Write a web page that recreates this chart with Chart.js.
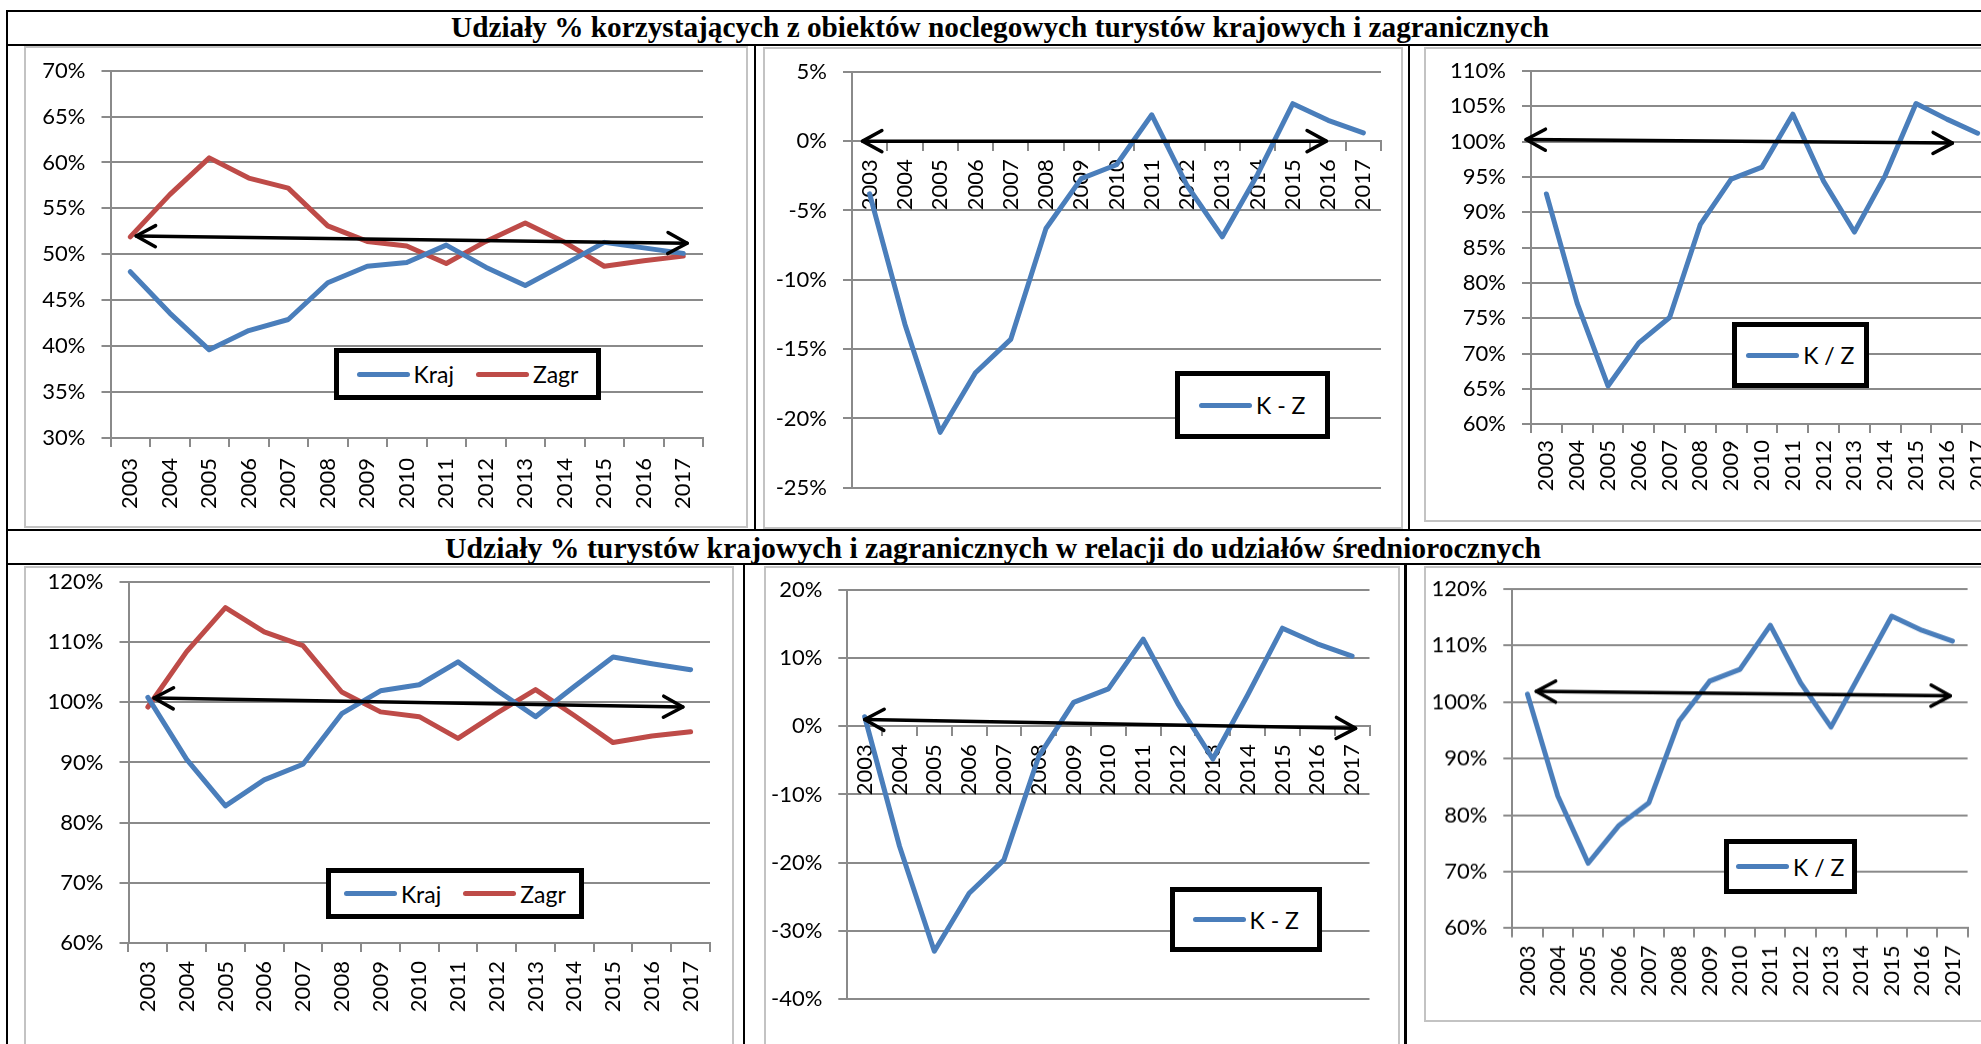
<!DOCTYPE html>
<html>
<head>
<meta charset="utf-8">
<script src="https://cdn.jsdelivr.net/npm/chart.js@4.4.1/dist/chart.umd.min.js"></script>
<style>
  html, body { margin: 0; padding: 0; background: #fff; }
  body { width: 1981px; height: 1044px; overflow: hidden; position: relative; font-family: Lato, sans-serif; }
  .ln { position: absolute; background: #000; }
  .title { position: absolute; font-family: "Liberation Serif", "Times New Roman", serif; font-weight: bold;
           font-size: 29px; line-height: 29px; white-space: nowrap; transform-origin: 0 0; }
  .frame { position: absolute; border: 2px solid #c3c3c3; box-sizing: border-box; }
  .wrap { position: absolute; }
  .legend { position: absolute; border: 5px solid #000; box-sizing: border-box; background: #fff;
            display: flex; align-items: center; justify-content: center; gap: 22px; font-size: 23px; color: #000; }
  .legend .item { display: flex; align-items: center; }
  .legend .sample { width: 53px; height: 5px; border-radius: 3px; margin-right: 4px; }
</style>
</head>
<body>
<script>
const years = ['2003', '2004', '2005', '2006', '2007', '2008', '2009', '2010',
               '2011', '2012', '2013', '2014', '2015', '2016', '2017'];

// udziały % korzystających z obiektów noclegowych
const krajTop = [48.1, 43.6, 39.6, 41.7, 42.9, 46.9, 48.7, 49.1, 51.0, 48.6, 46.6, 48.9, 51.3, 50.7, 50.1];
const zagrTop = [51.9, 56.5, 60.5, 58.3, 57.2, 53.1, 51.4, 50.9, 49.0, 51.4, 53.4, 51.3, 48.7, 49.3, 49.8];
const kzTop = [-3.8, -13.2, -21.0, -16.7, -14.3, -6.3, -2.7, -1.7, 1.9, -3.2, -6.9, -2.4, 2.7, 1.5, 0.6];
const kpzTop = [92.6, 77.1, 65.4, 71.5, 75.1, 88.3, 94.7, 96.4, 103.9, 94.4, 87.2, 95.2, 105.4, 103.2, 101.2];

// w relacji do udziałów średniorocznych
const krajBot = [100.8, 90.5, 82.8, 87.1, 89.7, 98.1, 101.9, 102.9, 106.7, 102.0, 97.6, 102.6, 107.5, 106.4, 105.4];
const zagrBot = [99.2, 108.4, 115.7, 111.7, 109.4, 101.7, 98.4, 97.6, 94.0, 98.2, 102.1, 97.8, 93.3, 94.4, 95.1];
const kzBot = [1.4, -17.6, -33.0, -24.5, -19.6, -4.4, 3.5, 5.5, 12.8, 3.3, -4.8, 4.6, 14.4, 12.1, 10.3];
const kpzBot = [101.4, 83.4, 71.5, 78.1, 82.2, 96.7, 103.7, 105.8, 113.6, 103.4, 95.6, 105.4, 115.2, 112.7, 110.8];

// y axes: [min, max, step]
const yTop1 = [30, 70, 5];
const yTop2 = [-25, 5, 5];
const yTop3 = [60, 110, 5];
const yBot1 = [60, 120, 10];
const yBot2 = [-40, 20, 10];
const yBot3 = [60, 120, 10];

// trend arrows: [category index from, value from, category index to, value to]
const arrowTop1 = [0.15, 52.0, 14.1, 51.2];
const arrowTop2 = [-0.2, 0, 12.95, 0];
const arrowTop3 = [-0.66, 100.3, 13.18, 99.8];
const arrowBot1 = [0.16, 100.7, 13.8, 99.2];
const arrowBot2 = [0.0, 1.0, 14.1, -0.3];
const arrowBot3 = [0.29, 101.9, 13.93, 101.1];

const titleTop = 'Udziały % korzystających z obiektów noclegowych turystów krajowych i zagranicznych';
const titleBot = 'Udziały % turystów krajowych i zagranicznych w relacji do udziałów średniorocznych';

const BLUE = '#4a7ebb';
const RED = '#be4b48';
const GRID = '#8a8a8a';

Chart.defaults.font.family = 'Lato, sans-serif';
Chart.defaults.font.size = 22;
Chart.defaults.color = '#000';

const el = (cls, l, t, w, h, parent) => {
  const d = document.createElement('div');
  d.className = cls;
  Object.assign(d.style, { left: l + 'px', top: t + 'px' });
  if (w != null) d.style.width = w + 'px';
  if (h != null) d.style.height = h + 'px';
  (parent || document.body).appendChild(d);
  return d;
};

// table lines
el('ln', 7, 9.5, 1980, 2);
el('ln', 7, 43.5, 1980, 2);
el('ln', 7, 528.5, 1980, 2.5);
el('ln', 7, 563, 1980, 2);
el('ln', 6, 9.5, 2, 1040);
el('ln', 754, 44, 2, 486);
el('ln', 1407.5, 44, 2, 486);
el('ln', 743, 563, 2, 490);
el('ln', 1404, 563, 3, 490);

const addTitle = (text, cx, baseline, targetW) => {
  const d = el('title', 0, baseline - 24.3);
  d.textContent = text;
  const w = d.getBoundingClientRect().width;
  const s = targetW / w;
  d.style.left = (cx - targetW / 2) + 'px';
  d.style.transform = 'scaleX(' + s + ')';
};
addTitle(titleTop, 1000, 37.2, 1098);
addTitle(titleBot, 993, 558, 1096);

const arrowPlugin = {
  id: 'trendArrow',
  afterDatasetsDraw(chart, args, opts) {
    const a = opts.points;
    if (!a) return;
    const { ctx, scales: { x, y } } = chart;
    const x1 = x.getPixelForValue(a[0]), y1 = y.getPixelForValue(a[1]);
    const x2 = x.getPixelForValue(a[2]), y2 = y.getPixelForValue(a[3]);
    const L = 22, w = 0.5;
    ctx.save();
    ctx.strokeStyle = '#000';
    ctx.lineWidth = 3.5;
    ctx.lineCap = 'round';
    ctx.lineJoin = 'round';
    ctx.beginPath();
    ctx.moveTo(x1, y1);
    ctx.lineTo(x2, y2);
    ctx.stroke();
    const head = (tx, ty, fx, fy) => {
      const ang = Math.atan2(ty - fy, tx - fx);
      ctx.beginPath();
      ctx.moveTo(tx - L * Math.cos(ang - w), ty - L * Math.sin(ang - w));
      ctx.lineTo(tx, ty);
      ctx.lineTo(tx - L * Math.cos(ang + w), ty - L * Math.sin(ang + w));
      ctx.stroke();
    };
    head(x1, y1, x2, y2);
    head(x2, y2, x1, y1);
    ctx.restore();
  }
};

const panels = [
  { frame: [24, 46, 748, 528], plot: [110.5, 70.6, 703, 438], yr: yTop1,
    sets: [['Kraj', krajTop, BLUE], ['Zagr', zagrTop, RED]], arrow: arrowTop1,
    legend: [334, 348, 601, 400], pad: 11 },
  { frame: [763, 46.5, 1403, 528.5], plot: [852, 71.3, 1381, 487.3], yr: yTop2,
    sets: [['K - Z', kzTop, BLUE]], arrow: arrowTop2,
    legend: [1175, 371, 1329.5, 439], pad: 9, zero: true },
  { frame: [1424, 46.5, 2038, 521.7], plot: [1531, 70.6, 1993, 423.6], yr: yTop3,
    sets: [['K / Z', kpzTop, BLUE]], arrow: arrowTop3,
    legend: [1732, 322, 1868.6, 388], pad: 7 },
  { frame: [24, 566, 734.4, 1060], plot: [128.5, 581.8, 710, 943.1], yr: yBot1,
    sets: [['Kraj', krajBot, BLUE], ['Zagr', zagrBot, RED]], arrow: arrowBot1,
    legend: [325.7, 867.7, 584, 919.5], pad: 9 },
  { frame: [763.5, 566, 1400, 1060], plot: [846.8, 590, 1369, 998.9], yr: yBot2,
    sets: [['K - Z', kzBot, BLUE]], arrow: arrowBot2,
    legend: [1169.5, 887, 1322, 952], pad: 9, zero: true },
  { frame: [1424, 566, 2000, 1021.8], plot: [1512.3, 589, 1967.6, 927.4], yr: yBot3,
    sets: [['K / Z', kpzBot, BLUE]], arrow: arrowBot3,
    legend: [1724, 839, 1856.5, 894], pad: 8 }
];

panels.forEach(p => {
  const [fl, ft, fr, fb] = p.frame;
  const [pl, pt, pr, pb] = p.plot;
  el('frame', fl, ft, fr - fl, fb - ft);
  const wrap = el('wrap', fl, ft, fr - fl, fb - ft);
  const canvas = document.createElement('canvas');
  wrap.appendChild(canvas);

  new Chart(canvas, {
    type: 'line',
    data: {
      labels: years,
      datasets: p.sets.map(([label, data, color]) => ({
        label, data,
        borderColor: color,
        backgroundColor: color,
        borderWidth: 5,
        pointRadius: 0,
        tension: 0,
        borderJoinStyle: 'round',
        borderCapStyle: 'round'
      }))
    },
    options: {
      responsive: true,
      maintainAspectRatio: false,
      animation: false,
      devicePixelRatio: 1,
      layout: {
        padding: { top: pt - ft, right: fr - pr, left: 0, bottom: p.zero ? fb - pb : 0 }
      },
      plugins: {
        legend: { display: false },
        tooltip: { enabled: false },
        trendArrow: { points: p.arrow }
      },
      scales: {
        x: {
          position: p.zero ? { y: 0 } : 'bottom',
          offset: true,
          grid: { offset: true, drawOnChartArea: false, drawTicks: true, tickLength: 9, color: GRID, lineWidth: 2 },
          border: { display: true, color: GRID, width: 2 },
          ticks: { minRotation: 90, maxRotation: 90, autoSkip: false, padding: p.pad },
          afterFit: s => { s.height = fb - pb; s.paddingLeft = 0; s.paddingRight = 0; }
        },
        y: {
          min: p.yr[0],
          max: p.yr[1],
          grid: { color: GRID, lineWidth: 2, tickLength: 9 },
          border: { display: true, color: GRID, width: 2 },
          ticks: { stepSize: p.yr[2], padding: 16, callback: v => v + '%' },
          afterFit: s => { s.width = pl - fl; s.paddingTop = 0; s.paddingBottom = 0; }
        }
      }
    },
    plugins: [arrowPlugin]
  });

  const [ll, lt, lr, lb] = p.legend;
  const lg = el('legend', ll, lt, lr - ll, lb - lt);
  p.sets.forEach(([label, , color]) => {
    const item = document.createElement('div');
    item.className = 'item';
    const s = document.createElement('span');
    s.className = 'sample';
    s.style.background = color;
    const t = document.createElement('span');
    t.textContent = label;
    item.appendChild(s);
    item.appendChild(t);
    lg.appendChild(item);
  });
});
</script>
</body>
</html>
